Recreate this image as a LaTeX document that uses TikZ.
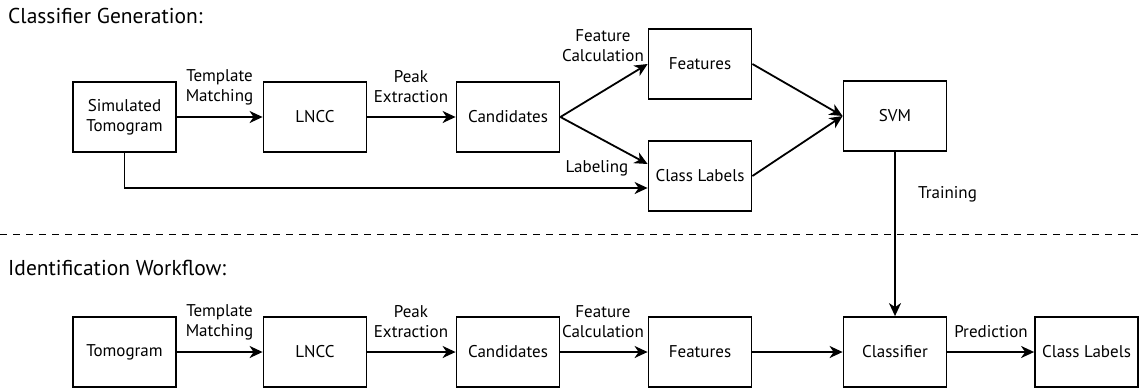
\documentclass[tikz,border=0pt]{standalone}
\usepackage{fontspec}
\setmainfont{PT Sans}
\usetikzlibrary{arrows.meta}
\begin{document}
\begin{tikzpicture}[x=1pt,y=-1pt,
  box/.style={draw,line width=1.8pt,minimum width=103pt,minimum height=70pt,align=center,inner sep=0pt,font=\fontsize{17}{20}\selectfont},
  arr/.style={line width=1.8pt,-{Stealth[length=13pt,width=12pt,inset=4pt]}},
  lbl/.style={align=center,inner sep=0pt,font=\fontsize{17}{20}\selectfont},
  ttl/.style={anchor=west,inner sep=0pt,font=\fontsize{21.5}{24}\selectfont}]
\useasboundingbox (0,0) rectangle (1139,389);
% titles
\node[ttl] (t1) at (8,16) {Classifier Generation:};
\node[ttl] (t2) at (8,268) {Identification Workflow:};
% separator
\coordinate (dl) at (0,234);
\coordinate (dr) at (1139,234);
\draw[line width=1pt,dash pattern=on 7pt off 6pt] (dl) -- (dr);
% top row
\node[box] (sim) at (124.5,117) {Simulated\\Tomogram};
\node[box] (lncc) at (315,117) {LNCC};
\node[box] (cand) at (508,117) {Candidates};
\node[box] (feat) at (700,64) {Features};
\node[box] (cls) at (700,176) {Class Labels};
\node[box] (svm) at (895,116) {SVM};
% bottom row
\node[box] (tomo) at (124.5,352) {Tomogram};
\node[box] (lncc2) at (315,352) {LNCC};
\node[box] (cand2) at (508,352) {Candidates};
\node[box] (feat2) at (700,352) {Features};
\node[box] (clf) at (895,352) {Classifier};
\node[box] (cls2) at (1086.5,352) {Class Labels};
% top connectors
\draw[arr] (sim) -- (lncc);
\draw[arr] (lncc) -- (cand);
\draw[arr] (cand.east) -- (feat.west);
\draw[arr] (cand.east) -- ([yshift=12pt]cls.west);
\draw[arr] (sim.south) |- ([yshift=-12pt]cls.west);
\draw[arr] (feat.east) -- (svm.west);
\draw[arr] (cls.east) -- (svm.west);
\draw[arr] (svm.south) -- (clf.north);
% bottom connectors
\draw[arr] (tomo) -- (lncc2);
\draw[arr] (lncc2) -- (cand2);
\draw[arr] (cand2) -- (feat2);
\draw[arr] (feat2) -- (clf);
\draw[arr] (clf) -- (cls2);
% labels
\node[lbl] (l1) at (219.5,87) {Template\\Matching};
\node[lbl] (l2) at (411,87) {Peak\\Extraction};
\node[lbl] (l3) at (603,46) {Feature\\Calculation};
\node[lbl] (l4) at (597,168) {Labeling};
\node[lbl,anchor=west] (l5) at (918,194) {Training};
\node[lbl] (l6) at (219.5,322) {Template\\Matching};
\node[lbl] (l7) at (411,322) {Peak\\Extraction};
\node[lbl] (l8) at (603,322) {Feature\\Calculation};
\node[lbl] (l9) at (991,332) {Prediction};
\end{tikzpicture}
\end{document}
